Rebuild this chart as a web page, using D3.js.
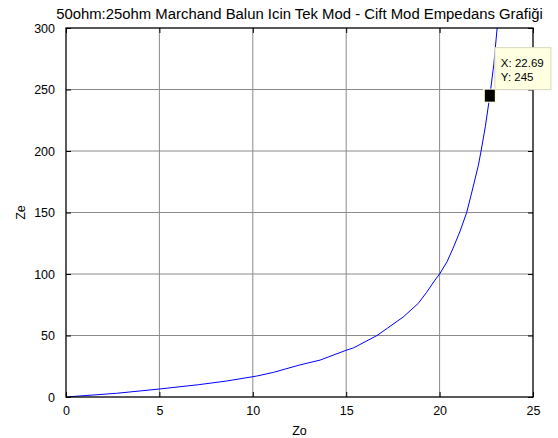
<!DOCTYPE html>
<html>
<head>
<meta charset="utf-8">
<script src="https://cdn.jsdelivr.net/npm/d3@7"></script>
<style>
  html, body { margin: 0; padding: 0; background: #fff; }
  svg { display: block; font-family: "Liberation Sans", Arial, sans-serif; }
</style>
</head>
<body>
<svg id="svg" width="558" height="438"></svg>
<script>
// ----- data -----
const zoVals = [0, 2.7, 5.0, 7.1, 8.6, 10.2, 11.1, 12.5, 13.6, 15.0, 15.4, 16.65, 18.05, 18.85, 19.3, 19.75, 20.0, 20.4, 20.75, 21.1, 21.45, 21.7, 22.07, 22.22, 22.45, 22.69, 22.9, 23.08];
const zeVals = [0, 3, 6.5, 10, 13, 17, 20, 26, 30, 38, 40, 50, 65, 76, 85, 95, 100, 110, 122, 135, 150, 165, 188, 200, 220, 245, 270, 300];
const xTicks = [0, 5, 10, 15, 20, 25];
const yTicks = [0, 50, 100, 150, 200, 250, 300];
const tip = { x: 22.69, y: 245 };
const titleText = "50ohm:25ohm Marchand Balun Icin Tek Mod - Cift Mod Empedans Grafiği";

const svg = d3.select("#svg");
const W = 558, H = 438;
const m = { left: 66, right: 25, top: 28, bottom: 41 };
const pw = W - m.left - m.right, ph = H - m.top - m.bottom;

const x = d3.scaleLinear().domain([0, 25]).range([m.left, m.left + pw]);
const y = d3.scaleLinear().domain([0, 300]).range([m.top + ph, m.top]);

// grid
const grid = svg.append("g").attr("stroke", "#8a8a8a").attr("stroke-width", 1);
xTicks.slice(1, -1).forEach(t => {
  grid.append("line").attr("x1", x(t)).attr("x2", x(t)).attr("y1", m.top).attr("y2", m.top + ph);
});
yTicks.slice(1, -1).forEach(t => {
  grid.append("line").attr("x1", m.left).attr("x2", m.left + pw).attr("y1", y(t)).attr("y2", y(t));
});

// curve (clipped to plot box)
svg.append("clipPath").attr("id", "clip")
  .append("rect").attr("x", m.left).attr("y", m.top).attr("width", pw).attr("height", ph);
const pts = zoVals.map((v, i) => [v, zeVals[i]]);
svg.append("path")
  .datum(pts)
  .attr("clip-path", "url(#clip)")
  .attr("fill", "none")
  .attr("stroke", "#0000ff")
  .attr("stroke-width", 1)
  .attr("d", d3.line().x(d => x(d[0])).y(d => y(d[1])));

// axes: ticks inside, on all four sides
const tickLen = 5;
const axB = svg.append("g").attr("transform", `translate(0,${m.top + ph})`)
  .call(d3.axisBottom(x).tickValues(xTicks).tickSize(-tickLen).tickPadding(9));
const axT = svg.append("g").attr("transform", `translate(0,${m.top})`)
  .call(d3.axisTop(x).tickValues(xTicks).tickSize(-tickLen).tickFormat(""));
const axL = svg.append("g").attr("transform", `translate(${m.left},0)`)
  .call(d3.axisLeft(y).tickValues(yTicks).tickSize(-tickLen).tickPadding(11));
const axR = svg.append("g").attr("transform", `translate(${m.left + pw},0)`)
  .call(d3.axisRight(y).tickValues(yTicks).tickSize(-tickLen).tickFormat(""));
[axB, axT, axL, axR].forEach(a => {
  a.select(".domain").remove();
  a.selectAll("line").attr("stroke", "#000");
  a.selectAll("text").attr("font-size", 12.5).attr("fill", "#000")
    .attr("font-family", "'Liberation Sans', Arial, sans-serif");
});

// box
svg.append("rect")
  .attr("x", m.left).attr("y", m.top).attr("width", pw).attr("height", ph)
  .attr("fill", "none").attr("stroke", "#000").attr("stroke-width", 1.3);

// labels
const title = svg.append("text").attr("x", m.left + pw / 2).attr("y", 19)
  .attr("text-anchor", "middle").attr("font-size", 14).text(titleText);
// stretch font to the width the title takes in the picture
const tw = title.node().getComputedTextLength();
title.attr("font-size", 14 * 487 / tw);

svg.append("text").attr("x", m.left + pw / 2).attr("y", 435)
  .attr("text-anchor", "middle").attr("font-size", 12.5).text("Zo");
svg.append("text").attr("transform", `translate(25,${m.top + ph / 2}) rotate(-90)`)
  .attr("text-anchor", "middle").attr("font-size", 12.5).text("Ze");

// data tip
const tx = x(tip.x), ty = y(tip.y);
svg.append("rect").attr("x", tx - 7).attr("y", ty - 7).attr("width", 14).attr("height", 14)
  .attr("fill", "#ffffe1");
svg.append("rect").attr("x", tx - 5).attr("y", ty - 6).attr("width", 10).attr("height", 12)
  .attr("fill", "#000");
const box = svg.append("g").attr("transform", `translate(${tx + 5},${ty - 48})`);
box.append("rect").attr("width", 56).attr("height", 42)
  .attr("fill", "#ffffe1").attr("stroke", "#d8d8c0").attr("stroke-width", 1);
box.append("text").attr("x", 6).attr("y", 19).attr("font-size", 11.5).text(`X: ${tip.x}`);
box.append("text").attr("x", 6).attr("y", 33).attr("font-size", 11.5).text(`Y: ${tip.y}`);
</script>
</body>
</html>
